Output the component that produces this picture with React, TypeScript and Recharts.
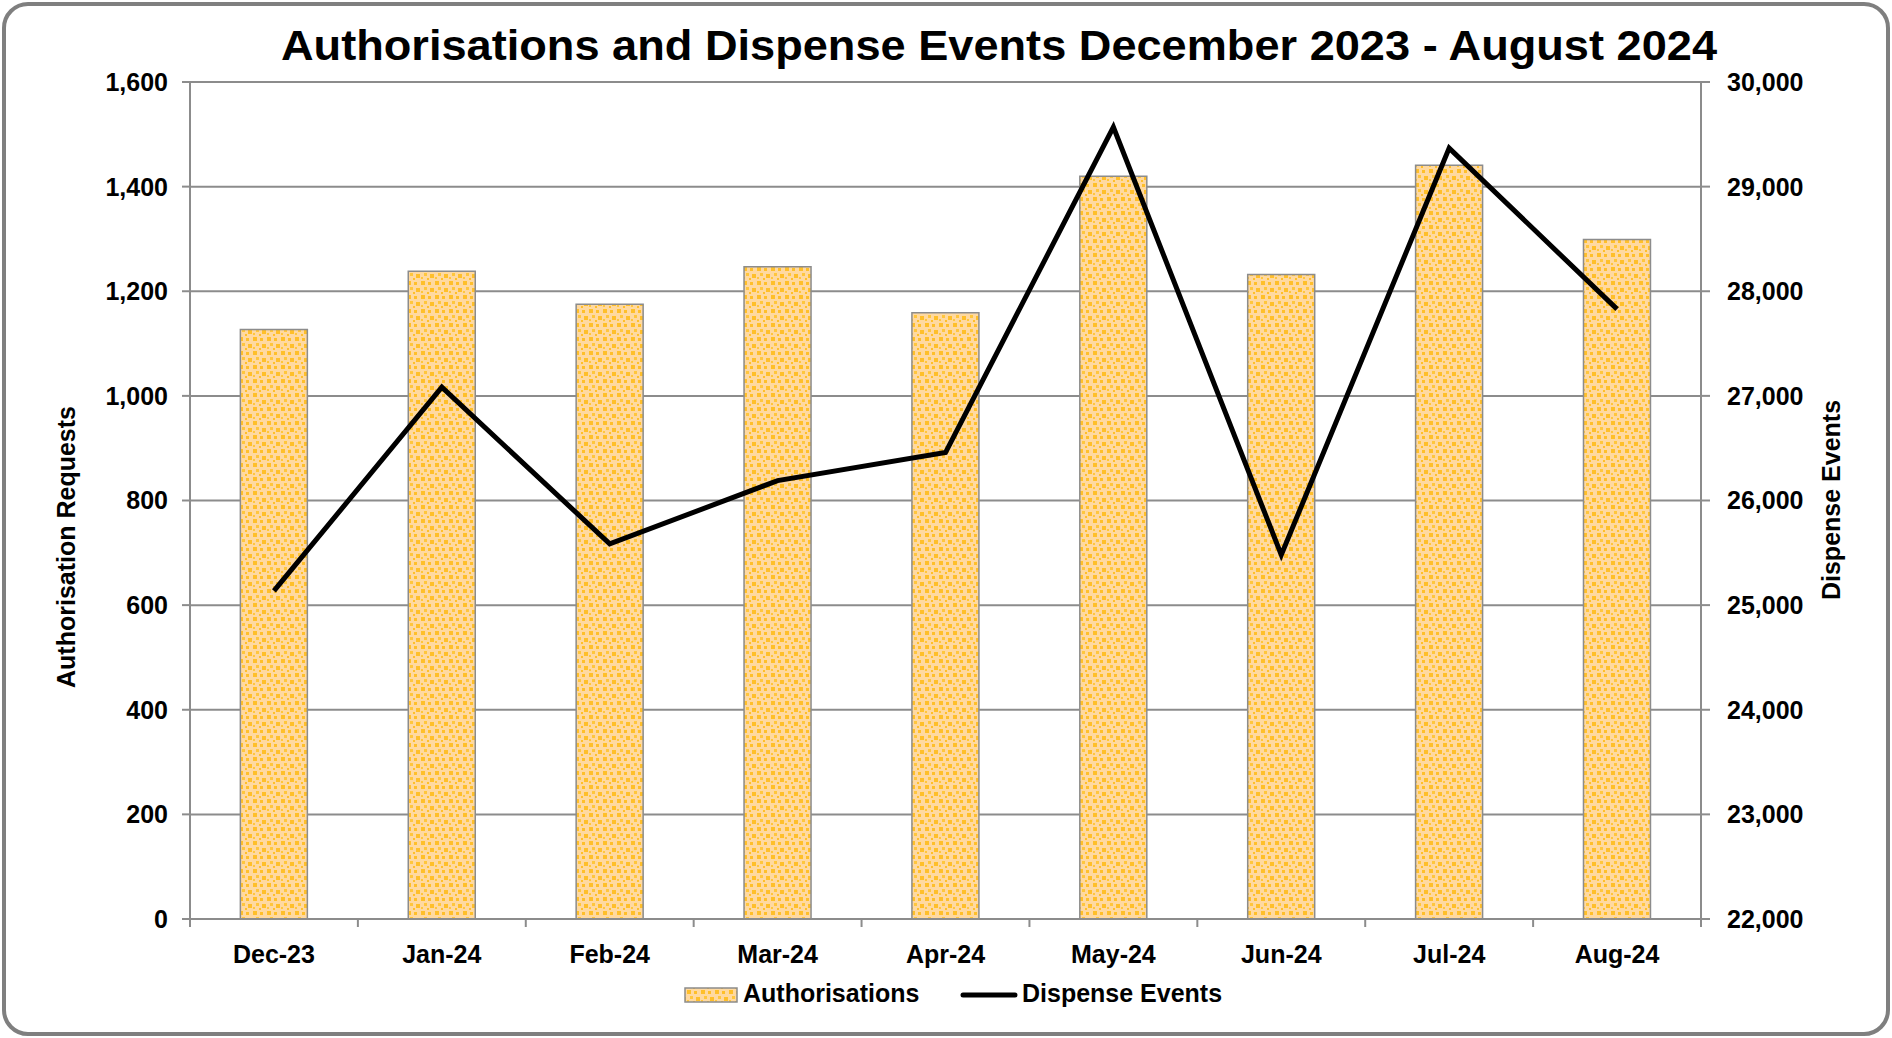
import React from "react";
import {
  ComposedChart,
  Bar,
  Line,
  XAxis,
  YAxis,
  CartesianGrid,
  Label,
} from "recharts";

const months = ["Dec-23", "Jan-24", "Feb-24", "Mar-24", "Apr-24", "May-24", "Jun-24", "Jul-24", "Aug-24"];
const authorisations = [1127, 1238, 1175, 1247, 1159, 1420, 1232, 1441, 1299];
const dispenseEvents = [25136, 27083, 25585, 26190, 26458, 29569, 25480, 29368, 27829];
const leftTicks = [0, 200, 400, 600, 800, 1000, 1200, 1400, 1600];
const rightTicks = [22000, 23000, 24000, 25000, 26000, 27000, 28000, 29000, 30000];

const data = months.map((month, i) => ({
  month,
  authorisations: authorisations[i],
  dispense: dispenseEvents[i],
}));

const FONT = '"Liberation Sans", Arial, sans-serif';
const GRID = "#8c8c8c";
const W = 1892;
const H = 1038;
const fmt = (v: number) => v.toLocaleString("en-US");

// square confetti fill used by the bars and the legend swatch
function ConfettiPattern({ id }: { id: string }) {
  return (
    <pattern id={id} width="14" height="14" patternUnits="userSpaceOnUse">
      <rect width="14" height="14" fill="#FFD9A0" />
      <rect x="1" y="1" width="4" height="4" fill="#FFBF2A" />
      <rect x="8" y="2" width="3" height="3" fill="#FFBF2A" />
      <rect x="4" y="7" width="3" height="3" fill="#FFC63D" />
      <rect x="10" y="8" width="4" height="4" fill="#FFBF2A" />
      <rect x="1" y="11" width="2" height="2" fill="#FFC63D" />
      <rect x="7" y="12" width="2" height="2" fill="#FFBF2A" />
    </pattern>
  );
}

// category label plus Excel-style tick marks between categories
function MonthTick(props: any) {
  const { x, y, payload, index, width } = props;
  const band = (width || 1511) / months.length;
  const axisY = y - 26;
  return (
    <g>
      <line x1={x - band / 2} x2={x - band / 2} y1={axisY} y2={axisY + 8} stroke={GRID} strokeWidth={2} />
      {index === months.length - 1 && (
        <line x1={x + band / 2} x2={x + band / 2} y1={axisY} y2={axisY + 8} stroke={GRID} strokeWidth={2} />
      )}
      <text x={x} y={y + 18} textAnchor="middle" fontFamily={FONT} fontWeight="bold" fontSize={25} fill="#000">
        {payload.value}
      </text>
    </g>
  );
}

export default function App() {
  const tickStyle = { fontFamily: FONT, fontWeight: "bold", fontSize: 25, fill: "#000" };
  return (
    <div style={{ position: "absolute", left: 0, top: 0, width: W, height: H, background: "#fff" }}>
      <div
        style={{
          position: "absolute",
          left: 2,
          top: 2,
          width: 1888,
          height: 1034,
          border: "4px solid #7f7f7f",
          borderRadius: 26,
          boxSizing: "border-box",
        }}
      />
      <svg width={W} height={70} style={{ position: "absolute", left: 0, top: 0 }}>
        <text
          x={999}
          y={60}
          textAnchor="middle"
          fontFamily={FONT}
          fontWeight="bold"
          fontSize={43}
          textLength={1436}
          lengthAdjust="spacingAndGlyphs"
          fill="#000"
        >
          Authorisations and Dispense Events December 2023 - August 2024
        </text>
      </svg>
      <div style={{ position: "absolute", left: 0, top: 0 }}>
        <ComposedChart
          width={W}
          height={H}
          data={data}
          margin={{ top: 82, right: 81, bottom: 59, left: 80 }}
          barCategoryGap="30%"
        >
          <defs>
            <ConfettiPattern id="confetti" />
          </defs>
          <CartesianGrid yAxisId="left" vertical={false} stroke={GRID} strokeWidth={2} />
          <XAxis
            dataKey="month"
            height={60}
            axisLine={{ stroke: GRID, strokeWidth: 2 }}
            tickLine={false}
            tickSize={8}
            tickMargin={18}
            interval={0}
            tick={<MonthTick />}
          />
          <YAxis
            yAxisId="left"
            width={110}
            domain={[0, 1600]}
            ticks={leftTicks}
            tickFormatter={fmt}
            axisLine={{ stroke: GRID, strokeWidth: 2 }}
            tickLine={{ stroke: GRID, strokeWidth: 2 }}
            tickSize={8}
            tickMargin={14}
            tick={tickStyle}
          >
            <Label
              content={() => (
                <text
                  x={66}
                  y={547}
                  transform="rotate(-90 66 547)"
                  textAnchor="middle"
                  dominantBaseline="central"
                  fontFamily={FONT}
                  fontWeight="bold"
                  fontSize={25}
                  fill="#000"
                >
                  Authorisation Requests
                </text>
              )}
            />
          </YAxis>
          <YAxis
            yAxisId="right"
            orientation="right"
            width={110}
            domain={[22000, 30000]}
            ticks={rightTicks}
            tickFormatter={fmt}
            axisLine={{ stroke: GRID, strokeWidth: 2 }}
            tickLine={{ stroke: GRID, strokeWidth: 2 }}
            tickSize={9}
            tickMargin={17}
            tick={{ ...tickStyle, textAnchor: "start" }}
          >
            <Label
              content={() => (
                <text
                  x={1831}
                  y={500}
                  transform="rotate(-90 1831 500)"
                  textAnchor="middle"
                  dominantBaseline="central"
                  fontFamily={FONT}
                  fontWeight="bold"
                  fontSize={25}
                  fill="#000"
                >
                  Dispense Events
                </text>
              )}
            />
          </YAxis>
          <Bar
            yAxisId="left"
            dataKey="authorisations"
            name="Authorisations"
            fill="url(#confetti)"
            stroke={GRID}
            strokeWidth={1.5}
            isAnimationActive={false}
          />
          <Line
            yAxisId="right"
            dataKey="dispense"
            name="Dispense Events"
            type="linear"
            stroke="#000"
            strokeWidth={5}
            dot={false}
            activeDot={false}
            isAnimationActive={false}
          />
        </ComposedChart>
      </div>
      <svg width={W} height={40} style={{ position: "absolute", left: 0, top: 975 }}>
        <defs>
          <ConfettiPattern id="confettiLegend" />
        </defs>
        <rect x={685} y={13} width={52} height={14} fill="url(#confettiLegend)" stroke={GRID} strokeWidth={1.5} />
        <text x={743} y={27} fontFamily={FONT} fontWeight="bold" fontSize={25} fill="#000">
          Authorisations
        </text>
        <line x1={963} x2={1015} y1={20} y2={20} stroke="#000" strokeWidth={5} strokeLinecap="round" />
        <text x={1022} y={27} fontFamily={FONT} fontWeight="bold" fontSize={25} fill="#000">
          Dispense Events
        </text>
      </svg>
    </div>
  );
}
